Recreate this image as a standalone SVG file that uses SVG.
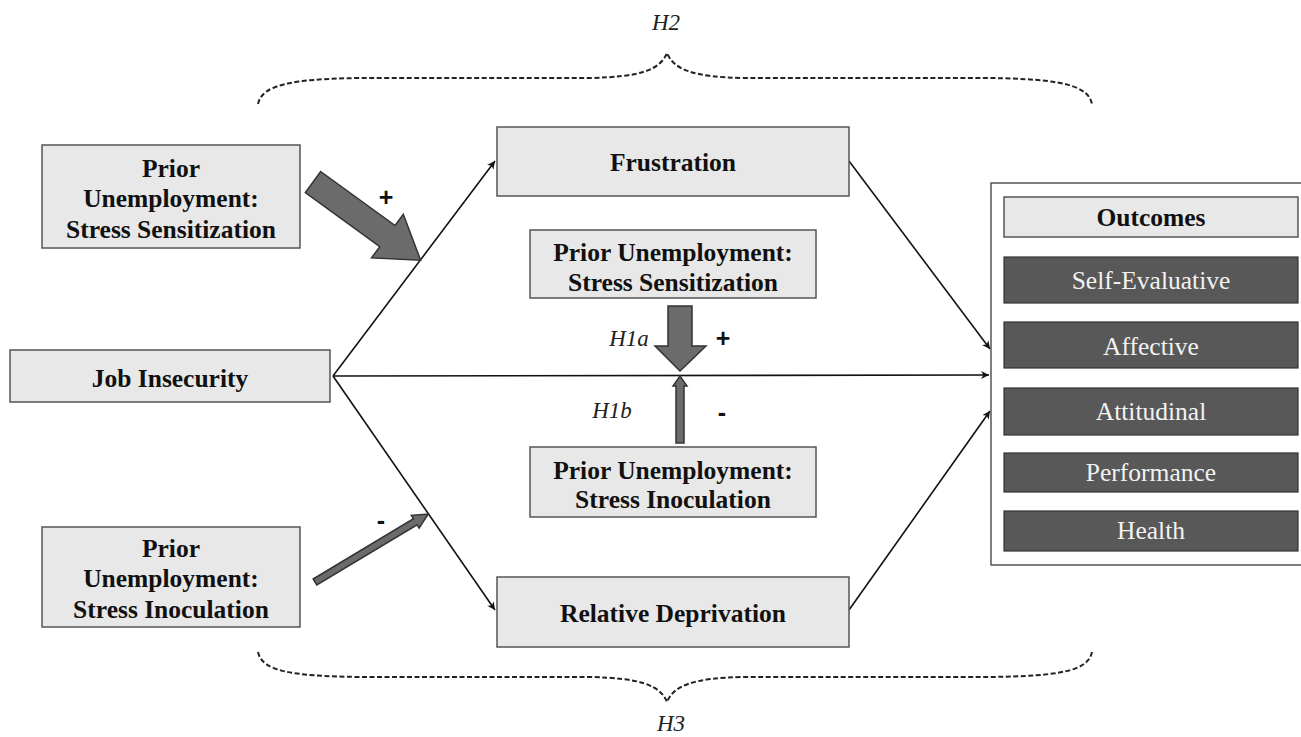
<svg xmlns="http://www.w3.org/2000/svg" width="1301" height="737" viewBox="0 0 1301 737">
<defs>
<marker id="ah" viewBox="0 0 10 10" refX="10" refY="5" markerWidth="8" markerHeight="8" markerUnits="userSpaceOnUse" orient="auto"><path d="M0,0 L10,5 L0,10 L3,5 z" fill="#111"/></marker>
<style>
.box{fill:#e8e8e8;stroke:#555;stroke-width:1.5}
.dark{fill:#585858;stroke:#333;stroke-width:1.2}
.lbl{font-family:"Liberation Serif",serif;font-weight:bold;font-size:25.5px;fill:#111;text-anchor:middle}
.out{font-family:"Liberation Serif",serif;font-size:25.5px;fill:#f2f2f2;text-anchor:middle}
.it{font-family:"Liberation Serif",serif;font-style:italic;font-size:23px;fill:#222;text-anchor:middle}
.sg{font-family:"Liberation Sans",sans-serif;font-weight:bold;font-size:25px;fill:#111;text-anchor:middle}
.con{stroke:#111;stroke-width:1.6;fill:none;marker-end:url(#ah)}
.brace{stroke:#222;stroke-width:2;fill:none;stroke-dasharray:5,2.5}
.blk{fill:#6b6b6b;stroke:#333;stroke-width:1.5}
</style>
</defs>
<rect width="1301" height="737" fill="#fff"/>

<g id="braces">
<path class="brace" d="M258,104 C262,85 290,79 360,78 L590,78 C640,77 660,70 667,53 C674,70 694,77 744,78 L990,78 C1060,79 1088,85 1092,104"/>
<path class="brace" d="M258,652 C262,671 290,676 360,677 L590,677 C640,678 660,685 667,702 C674,685 694,678 744,677 L990,677 C1060,676 1088,671 1092,652"/>
<text class="it" x="666" y="30">H2</text>
<text class="it" x="671" y="731" font-size="22">H3</text>
</g>

<g id="connectors">
<line class="con" x1="333" y1="376" x2="495" y2="161"/>
<line class="con" x1="333" y1="376" x2="495" y2="610"/>
<line class="con" x1="333" y1="376" x2="989" y2="375"/>
<line class="con" x1="849" y1="161" x2="990" y2="349"/>
<line class="con" x1="849" y1="610" x2="990" y2="411"/>
</g>

<g id="moderator-arrows">
<polygon class="blk" transform="translate(313,182) rotate(36)" points="0,-13 92,-13 92,-27 133,0 92,27 92,13 0,13"/>
<text class="sg" x="386" y="206">+</text>
<polygon class="blk" transform="translate(315,582) rotate(-31)" points="0,-3.5 117,-3.5 117,-7.5 132,0 117,7.5 117,3.5 0,3.5"/>
<text class="sg" x="381" y="529">-</text>
<polygon class="blk" points="668,306 692,306 692,346 706,346 680,371 655,346 668,346"/>
<polygon class="blk" points="676,443 684,443 684,386 687,386 680,376 673,386 676,386"/>
<text class="it" x="629" y="346">H1a</text>
<text class="sg" x="723" y="347">+</text>
<text class="it" x="612" y="418">H1b</text>
<text class="sg" x="722" y="421">-</text>
</g>

<g id="n-sens-left">
<rect class="box" x="42" y="145" width="258" height="103"/>
<text class="lbl" x="171" y="177">Prior</text>
<text class="lbl" x="171" y="207">Unemployment:</text>
<text class="lbl" x="171" y="238">Stress Sensitization</text>
</g>
<g id="n-job">
<rect class="box" x="10" y="350" width="320" height="52"/>
<text class="lbl" x="170" y="387">Job Insecurity</text>
</g>
<g id="n-inoc-left">
<rect class="box" x="42" y="527" width="258" height="100"/>
<text class="lbl" x="171" y="557">Prior</text>
<text class="lbl" x="171" y="587">Unemployment:</text>
<text class="lbl" x="171" y="618">Stress Inoculation</text>
</g>
<g id="n-frustration">
<rect class="box" x="497" y="127" width="352" height="69"/>
<text class="lbl" x="673" y="171">Frustration</text>
</g>
<g id="n-sens-mid">
<rect class="box" x="530" y="230" width="286" height="68"/>
<text class="lbl" x="673" y="261">Prior Unemployment:</text>
<text class="lbl" x="673" y="291">Stress Sensitization</text>
</g>
<g id="n-inoc-mid">
<rect class="box" x="530" y="447" width="286" height="70"/>
<text class="lbl" x="673" y="479">Prior Unemployment:</text>
<text class="lbl" x="673" y="508">Stress Inoculation</text>
</g>
<g id="n-reldep">
<rect class="box" x="497" y="577" width="352" height="70"/>
<text class="lbl" x="673" y="622">Relative Deprivation</text>
</g>
<g id="n-outcomes">
<rect x="991" y="183" width="320" height="382" fill="#fff" stroke="#555" stroke-width="1.5"/>
<rect class="box" x="1004" y="197" width="294" height="40"/>
<text class="lbl" x="1151" y="226">Outcomes</text>
<rect class="dark" x="1004" y="257" width="294" height="46"/>
<text class="out" x="1151" y="289">Self-Evaluative</text>
<rect class="dark" x="1004" y="322" width="294" height="46"/>
<text class="out" x="1151" y="355">Affective</text>
<rect class="dark" x="1004" y="388" width="294" height="47"/>
<text class="out" x="1151" y="420">Attitudinal</text>
<rect class="dark" x="1004" y="453" width="294" height="39"/>
<text class="out" x="1151" y="481">Performance</text>
<rect class="dark" x="1004" y="511" width="294" height="40"/>
<text class="out" x="1151" y="539">Health</text>
</g>
</svg>
